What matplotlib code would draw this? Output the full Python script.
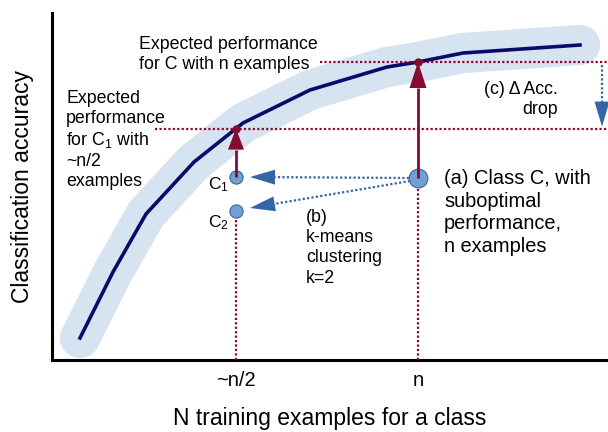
import numpy as np
import matplotlib
matplotlib.use("Agg")
import matplotlib.pyplot as plt

plt.rcParams['font.family'] = ['Liberation Sans', 'DejaVu Sans']
plt.rcParams['mathtext.fontset'] = 'custom'
plt.rcParams['mathtext.rm'] = 'Liberation Sans'
plt.rcParams['mathtext.it'] = 'Liberation Sans:italic'

# ---- data (arbitrary units) ----
curve_x = [28, 61, 94, 142, 191, 258, 335, 366, 411, 528]
curve_y = [22, 88, 146, 198, 237, 270, 293, 298, 307, 315]
n_x = 366
half_x = 184
c_y = 182      # class C observed accuracy
c1_y = 183     # cluster C1
c2_y = 149     # cluster C2
tick_pos = [half_x, n_x]
tick_labels = ['~n/2', 'n']

RED = '#870b2e'
BLUE = '#3465a4'
CIRC = '#729fcf'
BAND = '#d6e3f1'
NAVY = '#0a0a6a'

fig = plt.figure(figsize=(6.08, 4.32), dpi=100)
ax = fig.add_axes([52/608, 72/432, 556/608, 347/432])
ax.set_xlim(0, 556)
ax.set_ylim(0, 347)

acc_n = np.interp(n_x, curve_x, curve_y)
acc_half = np.interp(half_x, curve_x, curve_y)

# curve with band
ax.plot(curve_x, curve_y, color=BAND, lw=29, solid_capstyle='round',
        solid_joinstyle='round', zorder=1)
ax.plot(curve_x, curve_y, color=NAVY, lw=2.6, solid_joinstyle='round', zorder=2)

dot = (0, (1, 1))
# red dotted guides
ax.plot([268, 556], [acc_n, acc_n], color=RED, lw=1.6, ls=dot, zorder=3)
ax.plot([103, 556], [acc_half, acc_half], color=RED, lw=1.6, ls=dot, zorder=3)
ax.plot([half_x, half_x], [0, c2_y - 6], color=RED, lw=1.6, ls=dot, zorder=3)
ax.plot([n_x, n_x], [0, c_y], color=RED, lw=1.6, ls=dot, zorder=3)

# blue dotted arrows
def dotted_arrow(x0, y0, x1, y1, hl=25, hw=7.5):
    d = np.array([x1 - x0, y1 - y0], float)
    L = np.hypot(*d)
    u = d / L
    bx, by = x1 - u[0] * hl, y1 - u[1] * hl
    ax.plot([x0, bx], [y0, by], color=BLUE, lw=1.6, ls=dot, zorder=4)
    perp = np.array([-u[1], u[0]])
    tri = np.array([[x1, y1],
                    [bx + perp[0] * hw, by + perp[1] * hw],
                    [bx - perp[0] * hw, by - perp[1] * hw]])
    ax.add_patch(plt.Polygon(tri, closed=True, color=BLUE, zorder=4, lw=0))

dotted_arrow(n_x - 9, c_y, half_x + 14, c1_y)
dotted_arrow(n_x - 8, c_y - 3, half_x + 14, c2_y + 3)
dotted_arrow(550, acc_n - 3, 550, acc_half + 2, hl=25, hw=7.5)

# circles
ax.plot([n_x], [c_y], 'o', ms=13.5, mfc=CIRC, mec=BLUE, mew=0.8, zorder=5)
ax.plot([half_x, half_x], [c1_y, c2_y], 'o', ms=9.5, mfc=CIRC, mec=BLUE,
        mew=0.8, zorder=5)

# red solid arrows
def red_arrow(x, y0, y1, hl, hw):
    ax.plot([x, x], [y0, y1 - hl], color=RED, lw=2, zorder=6,
            solid_capstyle='butt')
    tri = np.array([[x, y1], [x - hw, y1 - hl], [x + hw, y1 - hl]])
    ax.add_patch(plt.Polygon(tri, closed=True, color=RED, zorder=6, lw=0))

red_arrow(n_x, c_y, acc_n, 26, 8.5)
red_arrow(half_x, c1_y, acc_half, 21, 8)
ax.plot([half_x, n_x], [acc_half, acc_n], 'o', ms=5, color=RED, zorder=7)

# texts
fs = 12.8
ax.text(87, 324, 'Expected performance\nfor C with n examples', fontsize=fs,
        va='top', ha='left', linespacing=1.22)
ax.text(14, 270, 'Expected\nperformance\nfor C$_\\mathrm{1}$ with\n~n/2\nexamples',
        fontsize=fs, va='top', ha='left', linespacing=1.22)
ax.text(506, 279, '(c) \u0394 Acc.\ndrop', fontsize=fs, va='top', ha='right',
        multialignment='right', linespacing=1.2)
ax.text(392, 191, '(a) Class C, with\nsuboptimal\nperformance,\nn examples',
        fontsize=14.4, va='top', ha='left', linespacing=1.24)
ax.text(254, 151, '(b)\nk-means\nclustering\nk=2', fontsize=fs, va='top',
        ha='left', linespacing=1.25)
ax.text(177, c1_y - 8, 'C$_\\mathrm{1}$', fontsize=12.5, ha='right', va='center')
ax.text(177, c2_y - 12, 'C$_\\mathrm{2}$', fontsize=12.5, ha='right', va='center')

# axes styling
for s in ['top', 'right']:
    ax.spines[s].set_visible(False)
for s in ['left', 'bottom']:
    ax.spines[s].set_linewidth(2.2)
ax.set_yticks([])
ax.set_xticks(tick_pos)
ax.set_xticklabels(tick_labels, fontsize=14.5)
ax.tick_params(axis='x', length=0, pad=8)
ax.set_xlabel('N training examples for a class', fontsize=16.5, labelpad=12)
ax.set_ylabel('Classification accuracy', fontsize=16.5, labelpad=13)

fig.savefig('out.png', dpi=100)
